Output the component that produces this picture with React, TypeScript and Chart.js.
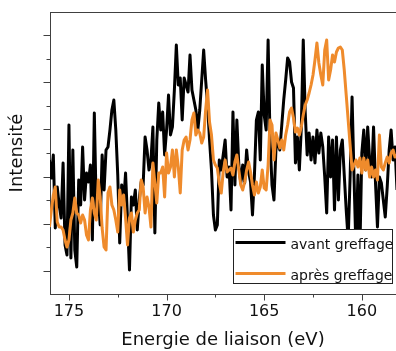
import React, { useEffect, useRef } from 'react';
import { Chart, registerables } from 'chart.js';

Chart.register(...registerables);

// Binding energy grid (eV)
const energies = [
  176.0, 175.9, 175.8, 175.7, 175.6, 175.5, 175.4, 175.3, 175.2, 175.1,
  175.0, 174.9, 174.8, 174.7, 174.6, 174.5, 174.4, 174.3, 174.2, 174.1,
  174.0, 173.9, 173.8, 173.7, 173.6, 173.5, 173.4, 173.3, 173.2, 173.1,
  173.0, 172.9, 172.8, 172.7, 172.6, 172.5, 172.4, 172.3, 172.2, 172.1,
  172.0, 171.9, 171.8, 171.7, 171.6, 171.5, 171.4, 171.3, 171.2, 171.1,
  171.0, 170.9, 170.8, 170.7, 170.6, 170.5, 170.4, 170.3, 170.2, 170.1,
  170.0, 169.9, 169.8, 169.7, 169.6, 169.5, 169.4, 169.3, 169.2, 169.1,
  169.0, 168.9, 168.8, 168.7, 168.6, 168.5, 168.4, 168.3, 168.2, 168.1,
  168.0, 167.9, 167.8, 167.7, 167.6, 167.5, 167.4, 167.3, 167.2, 167.1,
  167.0, 166.9, 166.8, 166.7, 166.6, 166.5, 166.4, 166.3, 166.2, 166.1,
  166.0, 165.9, 165.8, 165.7, 165.6, 165.5, 165.4, 165.3, 165.2, 165.1,
  165.0, 164.9, 164.8, 164.7, 164.6, 164.5, 164.4, 164.3, 164.2, 164.1,
  164.0, 163.9, 163.8, 163.7, 163.6, 163.5, 163.4, 163.3, 163.2, 163.1,
  163.0, 162.9, 162.8, 162.7, 162.6, 162.5, 162.4, 162.3, 162.2, 162.1,
  162.0, 161.9, 161.8, 161.7, 161.6, 161.5, 161.4, 161.3, 161.2, 161.1,
  161.0, 160.9, 160.8, 160.7, 160.6, 160.5, 160.4, 160.3, 160.2, 160.1,
  160.0, 159.9, 159.8, 159.7, 159.6, 159.5, 159.4, 159.3, 159.2, 159.1,
  159.0, 158.9, 158.8, 158.7, 158.6, 158.5, 158.4, 158.3, 158.2,
];

// Intensity (arbitrary units) before grafting
const avant = [
  134, 116, 139, 66, 107, 89, 76, 131, 49, 39,
  169, 36, 144, 44, 27, 114, 89, 147, 94, 121,
  112, 129, 54, 181, 84, 97, 69, 139, 104, 144,
  147, 164, 184, 194, 164, 119, 51, 109, 91, 121,
  74, 24, 97, 89, 104, 64, 94, 112, 109, 157,
  144, 124, 134, 167, 61, 154, 191, 164, 182, 139,
  164, 199, 159, 167, 204, 249, 209, 216, 174, 216,
  209, 202, 239, 204, 194, 184, 164, 184, 214, 244,
  214, 189, 154, 124, 79, 64, 69, 134, 124, 139,
  154, 117, 127, 84, 182, 109, 174, 129, 111, 129,
  111, 144, 122, 112, 79, 119, 174, 182, 134, 229,
  179, 164, 254, 154, 109, 94, 144, 154, 144, 169,
  194, 214, 236, 232, 212, 206, 131, 157, 124, 166,
  254, 182, 139, 161, 134, 157, 131, 164, 141, 161,
  147, 117, 81, 157, 117, 154, 84, 157, 94, 144,
  154, 119, 84, 54, 117, 197, 117, 44, 119, 44,
  141, 164, 124, 167, 134, 117, 167, 111, 67, 117,
  111, 94, 77, 107, 144, 164, 134, 147, 104,
];

// Intensity (arbitrary units) after grafting
const apres = [
  67, 84, 99, 107, 72, 67, 67, 64, 54, 47,
  54, 74, 81, 96, 81, 79, 71, 79, 74, 59,
  54, 84, 96, 81, 74, 114, 97, 66, 47, 44,
  101, 107, 89, 84, 74, 62, 104, 89, 99, 76,
  49, 76, 81, 62, 74, 81, 84, 114, 107, 81,
  97, 87, 67, 131, 111, 91, 121, 121, 127, 97,
  141, 121, 127, 144, 117, 144, 127, 101, 144, 154,
  157, 144, 154, 174, 181, 159, 164, 161, 151, 157,
  184, 204, 172, 159, 134, 129, 126, 111, 101, 122,
  134, 122, 124, 126, 119, 132, 139, 124, 109, 104,
  112, 124, 132, 122, 109, 99, 112, 101, 107, 124,
  106, 104, 129, 174, 169, 134, 161, 154, 146, 154,
  144, 159, 169, 182, 186, 176, 162, 166, 159, 167,
  179, 189, 194, 201, 209, 219, 234, 251, 231, 219,
  209, 244, 254, 214, 224, 239, 232, 242, 246, 247,
  244, 224, 199, 174, 149, 124, 129, 134, 127, 136,
  121, 136, 124, 134, 117, 127, 117, 124, 114, 159,
  127, 124, 131, 137, 131, 141, 144, 137, 139,
];

const seriesLabels = ['avant greffage', 'après greffage'];
const seriesColors = ['#000000', '#ef8b2c'];

const xMajorTicks = [175, 170, 165, 160];
const xMinorTicks = [172.5, 167.5, 162.5];
const yTicks = [23, 46.6, 70.2, 93.8, 117.4, 141, 164.6, 188.2, 211.8, 235.4, 259];

const xRange = { min: 158.25, max: 175.97 };
const yRange = { min: 0, max: 282 };

const FONT = 'DejaVu Sans';

export default function App() {
  const ref = useRef<HTMLCanvasElement>(null);

  useEffect(() => {
    const canvas = ref.current;
    if (!canvas) return;

    const decorPlugin = {
      id: 'decor',
      afterDraw(chart: any) {
        const c = chart.ctx as CanvasRenderingContext2D;
        const { left, right, top, bottom } = chart.chartArea;
        const xs = chart.scales.x;
        const ys = chart.scales.y;
        c.save();
        c.strokeStyle = '#404040';
        c.lineWidth = 1;
        // top spine
        c.beginPath();
        c.moveTo(left, top + 0.5);
        c.lineTo(right, top + 0.5);
        c.stroke();
        // y ticks
        yTicks.forEach((v, k) => {
          const py = Math.round(ys.getPixelForValue(v)) + 0.5;
          const len = k % 2 === 0 ? 6.5 : 3.5;
          c.beginPath();
          c.moveTo(left - len, py);
          c.lineTo(left, py);
          c.stroke();
        });
        // x ticks
        xMajorTicks.forEach((v) => {
          const px = Math.round(xs.getPixelForValue(v)) + 0.5;
          c.beginPath();
          c.moveTo(px, bottom);
          c.lineTo(px, bottom + 6.5);
          c.stroke();
        });
        xMinorTicks.forEach((v) => {
          const px = Math.round(xs.getPixelForValue(v)) + 0.5;
          c.beginPath();
          c.moveTo(px, bottom);
          c.lineTo(px, bottom + 3.5);
          c.stroke();
        });

        // legend
        const bx = right - 162.5;
        const by = bottom - 64.5;
        const bw = 159;
        const bh = 54;
        c.fillStyle = '#ffffff';
        c.fillRect(bx, by, bw, bh);
        c.strokeStyle = '#222222';
        c.lineWidth = 1;
        c.strokeRect(bx, by, bw, bh);
        const rows = [by + 13, by + 44];
        c.font = `14px "${FONT}"`;
        c.textBaseline = 'alphabetic';
        c.textAlign = 'left';
        seriesLabels.forEach((lab, k) => {
          const ly = rows[k];
          c.strokeStyle = seriesColors[k];
          c.lineWidth = 3.2;
          c.lineCap = 'butt';
          c.beginPath();
          c.moveTo(bx + 2, ly);
          c.lineTo(bx + 52, ly);
          c.stroke();
          c.fillStyle = '#111111';
          c.fillText(lab, bx + 57, ly + 6);
        });
        c.restore();
      },
    };

    const chart = new Chart(canvas, {
      type: 'line',
      data: {
        datasets: [
          {
            label: seriesLabels[0],
            data: energies.map((e, i) => ({ x: e, y: avant[i] })),
            borderColor: seriesColors[0],
            borderWidth: 3,
            pointRadius: 0,
            tension: 0,
            borderJoinStyle: 'round',
            order: 2,
          },
          {
            label: seriesLabels[1],
            data: energies.map((e, i) => ({ x: e, y: apres[i] })),
            borderColor: seriesColors[1],
            borderWidth: 3,
            pointRadius: 0,
            tension: 0,
            borderJoinStyle: 'round',
            order: 1,
          },
        ],
      },
      options: {
        responsive: false,
        animation: false,
        devicePixelRatio: 1,
        layout: { padding: { top: 12, right: 0, left: 0, bottom: 0 } },
        plugins: {
          legend: { display: false },
          tooltip: { enabled: false },
        },
        scales: {
          x: {
            type: 'linear',
            reverse: true,
            min: xRange.min,
            max: xRange.max,
            afterBuildTicks: (s: any) => {
              s.ticks = xMajorTicks.map((v) => ({ value: v }));
            },
            afterFit: (s: any) => {
              s.height = 57;
            },
            grid: { display: false, drawTicks: false },
            border: { display: true, color: '#404040', width: 1 },
            ticks: {
              padding: 8,
              color: '#111111',
              font: { family: FONT, size: 16 },
              maxRotation: 0,
              callback: (v: any) => String(v),
            },
            title: {
              display: true,
              text: 'Energie de liaison (eV)',
              color: '#111111',
              font: { family: FONT, size: 18 },
              padding: { top: 0, bottom: 0 },
            },
          },
          y: {
            type: 'linear',
            min: yRange.min,
            max: yRange.max,
            afterFit: (s: any) => {
              s.width = 50;
            },
            grid: { display: false, drawTicks: false },
            border: { display: true, color: '#404040', width: 1 },
            ticks: { display: false },
            title: {
              display: true,
              text: 'Intensité',
              color: '#111111',
              font: { family: FONT, size: 18 },
              padding: { top: 7, bottom: 0 },
            },
          },
        },
      },
      plugins: [decorPlugin],
    });

    return () => chart.destroy();
  }, []);

  return (
    <div style={{ position: 'absolute', left: 0, top: 0, width: 396, height: 351 }}>
      <canvas ref={ref} width={396} height={351} style={{ display: 'block' }} />
    </div>
  );
}
